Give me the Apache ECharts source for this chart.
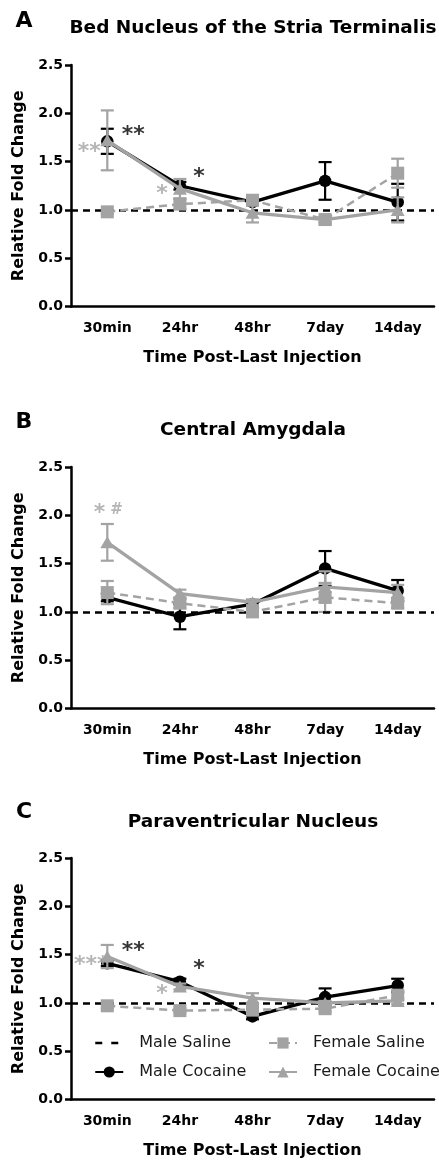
<!DOCTYPE html>
<html><head><meta charset="utf-8">
<script src="https://cdn.jsdelivr.net/npm/echarts@6/dist/echarts.min.js"></script>
<style>html,body{margin:0;padding:0;background:#fff}#c{width:439px;height:1163px}</style>
</head><body><div id="c"></div>
<script>
const categories = ['30min','24hr','48hr','7day','14day'];
const yTicks = [0,0.5,1,1.5,2,2.5];
const seriesNames = ['Male Saline','Male Cocaine','Female Saline','Female Cocaine'];
const panelTitles = ['Bed Nucleus of the Stria Terminalis','Central Amygdala','Paraventricular Nucleus'];
const panelLetters = ['A','B','C'];

const maleSaline = [1,1,1,1,1];

// Panel A (BNST)
const maleCocA = [1.71,1.25,1.08,1.30,1.08];
const maleCocA_sem = [0.13,0.04,0.03,0.195,0.19];
const femSalA = [0.98,1.06,1.10,0.90,1.38];
const femSalA_sem = [0.02,0.05,0.05,0.03,0.15];
const femCocA = [1.72,1.22,0.97,0.90,1.00];
const femCocA_sem = [0.31,0.10,0.10,0.03,0.13];

// Panel B (CeA)
const maleCocB = [1.15,0.95,1.08,1.45,1.22];
const maleCocB_sem = [0.04,0.13,0.03,0.18,0.11];
const femSalB = [1.20,1.09,1.00,1.15,1.09];
const femSalB_sem = [0.12,0.05,0.04,0.15,0.05];
const femCocB = [1.72,1.19,1.10,1.26,1.20];
const femCocB_sem = [0.19,0.04,0.03,0.16,0.08];

// Panel C (PVN)
const maleCocC = [1.41,1.22,0.86,1.06,1.18];
const maleCocC_sem = [0.03,0.03,0.03,0.09,0.07];
const femSalC = [0.97,0.92,0.93,0.94,1.08];
const femSalC_sem = [0.03,0.02,0.06,0.03,0.05];
const femCocC = [1.48,1.17,1.05,1.00,1.02];
const femCocC_sem = [0.12,0.03,0.05,0.02,0.03];

// significance annotations: [category index, y value, text, group]
const annA = [[0,1.77,'**','male'],[0,1.60,'**','female'],[1,1.34,'*','male'],[1,1.16,'*','female']];
const annB = [[0,2.02,'* #','female']];
const annC = [[0,1.53,'**','male'],[0,1.39,'***','female'],[1,1.35,'*','male'],[1,1.09,'*','female']];

const panels = [
  {mc:maleCocA, mcs:maleCocA_sem, fs:femSalA, fss:femSalA_sem, fc:femCocA, fcs:femCocA_sem, ann:annA},
  {mc:maleCocB, mcs:maleCocB_sem, fs:femSalB, fss:femSalB_sem, fc:femCocB, fcs:femCocB_sem, ann:annB},
  {mc:maleCocC, mcs:maleCocC_sem, fs:femSalC, fss:femSalC_sem, fc:femCocC, fcs:femCocC_sem, ann:annC}
];

const BLACK = '#000000';
const GRAY = '#a3a3a3';
const FONT = 'DejaVu Sans';
const gridTops = [65, 467, 858];
const gridH = 241.5;
const titleY = [28, 430, 822];
const letterY = [21, 422, 812];

const grids = [], xAxes = [], yAxes = [], series = [], graphics = [];

function errData(mean, sem){ return mean.map((m,i)=>[i, m-sem[i], m+sem[i]]); }
function errSeries(gi, mean, sem, color, z){
  return {
    type:'custom', xAxisIndex:gi, yAxisIndex:gi, z:z, silent:true,
    data: errData(mean, sem),
    encode:{x:0, y:[1,2]},
    renderItem: function(params, api){
      const lo = api.coord([api.value(0), api.value(1)]);
      const hi = api.coord([api.value(0), api.value(2)]);
      const hw = 6.5;
      const st = {stroke:color, lineWidth:2.2};
      return {type:'group', children:[
        {type:'line', shape:{x1:lo[0],y1:lo[1],x2:hi[0],y2:hi[1]}, style:st},
        {type:'line', shape:{x1:lo[0]-hw,y1:lo[1],x2:lo[0]+hw,y2:lo[1]}, style:st},
        {type:'line', shape:{x1:hi[0]-hw,y1:hi[1],x2:hi[0]+hw,y2:hi[1]}, style:st}
      ]};
    }
  };
}

panels.forEach((p, gi) => {
  grids.push({left:71, width:363, top:gridTops[gi], height:gridH});
  xAxes.push({
    type:'category', gridIndex:gi, data:categories, boundaryGap:true,
    name:'Time Post-Last Injection', nameLocation:'middle', nameGap:43,
    nameTextStyle:{fontFamily:FONT, fontWeight:'bold', fontSize:16, color:BLACK},
    axisLine:{lineStyle:{color:BLACK, width:2.5}},
    axisTick:{alignWithLabel:true, length:7, lineStyle:{color:BLACK, width:2.5}},
    axisLabel:{fontFamily:FONT, fontWeight:'bold', fontSize:14, color:BLACK, margin:15}
  });
  yAxes.push({
    type:'value', gridIndex:gi, min:yTicks[0], max:yTicks[yTicks.length-1], interval:0.5,
    name:'Relative Fold Change', nameLocation:'middle', nameGap:44, nameRotate:90,
    nameTextStyle:{fontFamily:FONT, fontWeight:'bold', fontSize:16, color:BLACK},
    axisLine:{show:true, lineStyle:{color:BLACK, width:2.5}},
    axisTick:{show:true, length:6, lineStyle:{color:BLACK, width:2.5}},
    axisLabel:{fontFamily:FONT, fontWeight:'bold', fontSize:14, color:BLACK, margin:8,
      formatter:v=>v.toFixed(1)},
    splitLine:{show:false}
  });
  series.push({
    name:'Male Saline', type:'line', xAxisIndex:gi, yAxisIndex:gi, data:maleSaline,
    symbol:'none', z:1, silent:true,
    lineStyle:{color:BLACK, width:2.5, type:[7,5], opacity:0},
    itemStyle:{color:BLACK},
    markLine:{silent:true, symbol:'none', label:{show:false},
      lineStyle:{color:BLACK, width:2.5, type:[7,5]},
      data:[{yAxis:maleSaline[0]}]}
  });
  series.push(errSeries(gi, p.mc, p.mcs, BLACK, 2));
  series.push({
    name:'Male Cocaine', type:'line', xAxisIndex:gi, yAxisIndex:gi, data:p.mc, z:3,
    symbol:'circle', symbolSize:12.5, showAllSymbol:true,
    lineStyle:{color:BLACK, width:3.3}, itemStyle:{color:BLACK}
  });
  series.push(errSeries(gi, p.fs, p.fss, GRAY, 4));
  series.push({
    name:'Female Saline', type:'line', xAxisIndex:gi, yAxisIndex:gi, data:p.fs, z:5,
    symbol:'rect', symbolSize:13,
    lineStyle:{color:GRAY, width:2.5, type:[8,5]}, itemStyle:{color:GRAY}
  });
  series.push(errSeries(gi, p.fc, p.fcs, GRAY, 6));
  series.push({
    name:'Female Cocaine', type:'line', xAxisIndex:gi, yAxisIndex:gi, data:p.fc, z:7,
    symbol:'triangle', symbolSize:[14,12],
    lineStyle:{color:GRAY, width:3.3}, itemStyle:{color:GRAY}
  });
  series.push({
    type:'scatter', xAxisIndex:gi, yAxisIndex:gi, z:8, silent:true, symbolSize:0,
    data: p.ann.map(a => {
      const isMale = a[3]==='male';
      let dx;
      if (a[0]===0) dx = isMale ? 26 : -18;
      else dx = isMale ? 19 : -18;
      const col = isMale?BLACK:GRAY;
      const lab = {show:true, position:'inside', color:col, fontFamily:FONT, fontWeight:'bold', fontSize:22};
      if (a[2].indexOf('#')>=0) {
        dx = 1;
        lab.formatter = '{s|*}{h|#}';
        lab.rich = {s:{fontSize:22, fontWeight:'bold', color:col, fontFamily:FONT},
                    h:{fontSize:15, fontWeight:'bold', color:col, fontFamily:FONT, padding:[0,0,6,5]}};
      } else {
        lab.formatter = a[2];
      }
      if (a[2]==='***') dx = -16;
      lab.offset = [dx, 0];
      return {value:[a[0], a[1]], label:lab};
    })
  });
  graphics.push({type:'text', x:253, y:titleY[gi], style:{text:panelTitles[gi],
    fontFamily:FONT, fontWeight:'bold', fontSize:18.5, fill:BLACK, align:'center', verticalAlign:'middle'}});
  graphics.push({type:'text', x:24, y:letterY[gi], style:{text:panelLetters[gi],
    fontFamily:FONT, fontWeight:'bold', fontSize:22, fill:BLACK, align:'center', verticalAlign:'middle'}});
});

const legendCommon = {
  orient:'vertical', itemWidth:28, itemHeight:14, itemGap:13, selectedMode:false, padding:0,
  textStyle:{fontFamily:FONT, fontSize:16, color:'#1a1a1a', padding:[0,0,0,11]}
};
const chart = echarts.init(document.getElementById('c'), null, {renderer:'canvas'});
chart.setOption({
  animation:false,
  backgroundColor:'#ffffff',
  grid:grids, xAxis:xAxes, yAxis:yAxes, series:series,
  legend:[
    Object.assign({}, legendCommon, {left:94, top:1035, data:[
      {name:'Male Saline', itemStyle:{opacity:0}, lineStyle:{opacity:1, color:BLACK, width:2.5, type:[7,9]}},
      {name:'Male Cocaine'}]}),
    Object.assign({}, legendCommon, {left:268, top:1035, data:[
      {name:'Female Saline'}, {name:'Female Cocaine'}]})
  ],
  graphic:graphics
});
</script></body></html>
